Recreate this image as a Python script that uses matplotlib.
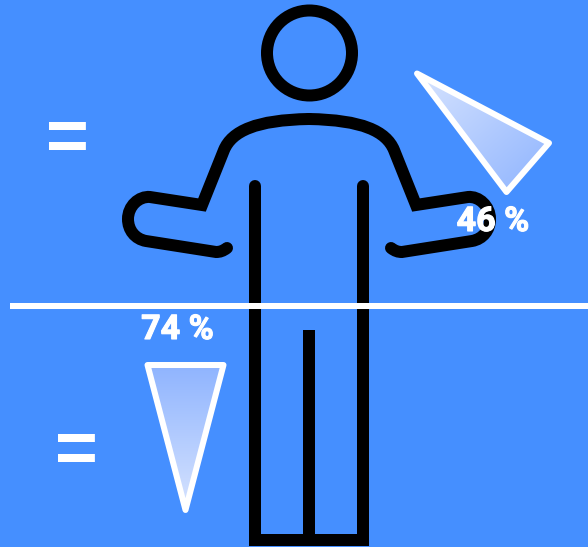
import numpy as np
import matplotlib
matplotlib.use("Agg")
import matplotlib.pyplot as plt
import matplotlib.patheffects as pe
from matplotlib.path import Path
from matplotlib.patches import PathPatch, Circle, Polygon
from matplotlib.colors import LinearSegmentedColormap

# values
percent_values = [46, 74]
percent_labels = [f"{v} %" for v in percent_values]
equals_labels = ["=", "="]

BG = "#458FFF"
W, H = 588, 547
px = 72 / 100  # one pixel in points

fig = plt.figure(figsize=(W / 100, H / 100), dpi=100, facecolor=BG)
ax = fig.add_axes([0, 0, 1, 1])
ax.set_xlim(0, W)
ax.set_ylim(H, 0)
ax.axis("off")

# figure
lw = 12 * px
ax.add_patch(Circle((309.5, 53), 42.5, fc="none", ec="black", lw=12 * px))

M, L, C = Path.MOVETO, Path.LINETO, Path.CURVE4
half = [((227, 248), M), ((223, 251), C), ((220, 252), C), ((216, 252), C),
        ((146, 241), L),
        ((135, 239), C), ((128, 230), C), ((128, 219), C),
        ((128, 206), C), ((139, 196), C), ((150, 197), C),
        ((202, 205), L), ((224, 150), L),
        ((232, 131), C), ((256, 120), C), ((309, 119), C)]
for mirror in (False, True):
    v = [((618 - x) if mirror else x, y) for (x, y), _ in half]
    c = [k for _, k in half]
    ax.add_patch(PathPatch(Path(v, c), fc="none", ec="black", lw=lw,
                           capstyle="round", joinstyle="miter"))

ax.plot([255, 255, 363, 363], [186, 540, 540, 186], color="black", lw=lw,
        solid_capstyle="round", solid_joinstyle="miter")
ax.plot([309, 309], [330, 540], color="black", lw=lw, solid_capstyle="butt")

# gradient triangles
def triangle(verts, grad, extent):
    cmap = LinearSegmentedColormap.from_list("g", ["#D6E3FE", "#8FB4FF"])
    poly = Polygon(verts, closed=True, fc="none", ec="white", lw=6 * px,
                   joinstyle="round", zorder=4)
    im = ax.imshow(grad, cmap=cmap, vmin=0, vmax=1, extent=extent,
                   aspect="auto", zorder=3, interpolation="bilinear")
    ax.add_patch(poly)
    im.set_clip_path(Polygon(verts, closed=True, transform=ax.transData))

g = np.linspace(0, 1, 64)
xx, yy = np.meshgrid(g, g)
triangle([(417, 73.5), (549, 143), (506.5, 192)], (xx + yy) / 2, (417, 549, 192, 73.5))
triangle([(147.5, 365), (223.5, 365), (185.5, 510)], 1 - yy, (147, 224, 510, 364))
ax.set_xlim(0, W)
ax.set_ylim(H, 0)

# axis line
ax.plot([10, W], [306, 306], color="white", lw=6 * px, solid_capstyle="butt", zorder=5)

# labels
txt = dict(color="white", fontweight="bold", family="Roboto", fontsize=24.5,
           zorder=6, va="baseline", ha="center",
           path_effects=[pe.withStroke(linewidth=0.8, foreground="white")])
ax.text(493, 231, percent_labels[0], **txt)
ax.text(177.5, 339, percent_labels[1], **txt)

eq = dict(color="white", fontweight="bold", family="Liberation Sans", fontsize=53, zorder=6,
          va="center", ha="center")
ax.text(67.5, 141, equals_labels[0], **eq)
ax.text(76.5, 454, equals_labels[1], **eq)

fig.savefig("out.png", dpi=100, facecolor=BG)
